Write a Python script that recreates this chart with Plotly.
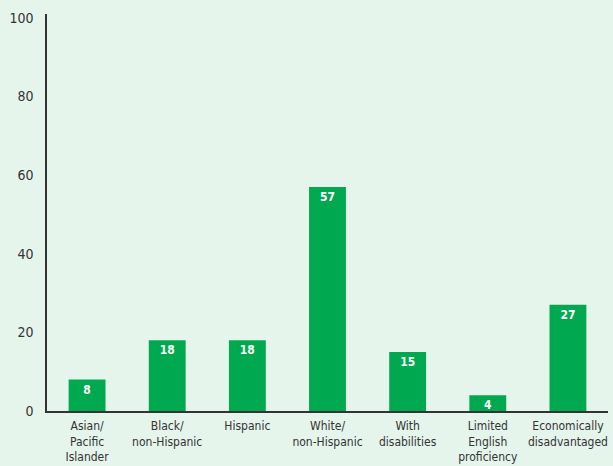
import plotly.graph_objects as go

categories = ["Asian/<br>Pacific<br>Islander", "Black/<br>non-Hispanic", "Hispanic",
              "White/<br>non-Hispanic", "With<br>disabilities",
              "Limited<br>English<br>proficiency", "Economically<br>disadvantaged"]
values = [8, 18, 18, 57, 15, 4, 27]
y_ticks = [0, 20, 40, 60, 80, 100]

BG = "#e5f5ec"
GREEN = "#00a84f"
FONT = "DejaVu Sans"

fig = go.Figure(go.Bar(
    x=categories, y=values, text=[str(v) for v in values],
    textposition="inside", insidetextanchor="end", constraintext="none", textangle=0,
    textfont=dict(color="white", size=12, family=FONT, weight="bold"),
    marker=dict(color=GREEN, line=dict(width=0)),
    width=0.46, cliponaxis=False, hoverinfo="skip",
))
fig.update_layout(
    width=613, height=466, paper_bgcolor=BG, plot_bgcolor=BG,
    margin=dict(l=47, r=5, t=14, b=55),
    font=dict(family=FONT, color="#333333", size=13),
    showlegend=False,
    uniformtext=dict(minsize=8, mode="show"),
)
fig.update_xaxes(showline=True, linecolor="#333333", linewidth=1.5, ticks="",
                 showgrid=False, tickfont=dict(size=12), tickangle=0,
                 automargin=False, ticklabelstandoff=3)
fig.update_yaxes(range=[0, 101], showline=True, linecolor="#333333", linewidth=1.5,
                 ticks="", showgrid=False, zeroline=False, tickvals=y_ticks,
                 tickfont=dict(size=14), ticklabelstandoff=9, automargin=False)
post = """
document.body.style.margin='0';
var st=document.createElement('style');
st.textContent='svg text{font-stretch:condensed !important;}';
document.head.appendChild(st);
Plotly.redraw(document.getElementById('{plot_id}'));
"""
fig.write_html("out.html", post_script=post, config={"displayModeBar": False})
